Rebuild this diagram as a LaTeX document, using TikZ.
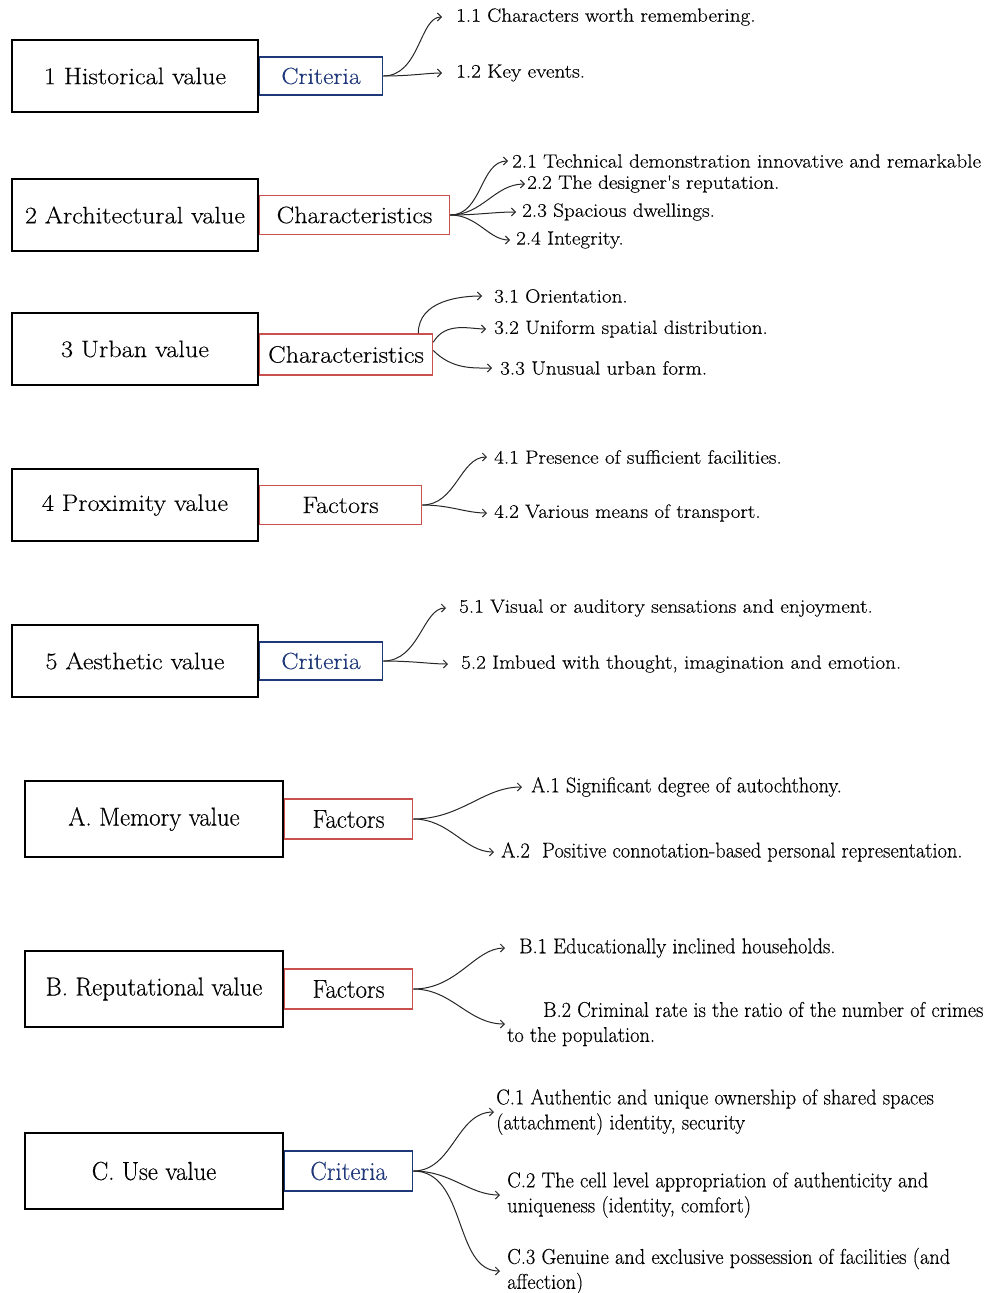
\documentclass[tikz,border=0pt]{standalone}
\usepackage{fontspec}
\newfontfamily\widefont{Latin Modern Roman}[FakeStretch=1.1, FakeBold=0.3]
\newfontfamily\condfont{Latin Modern Roman}[FakeStretch=0.95, FakeBold=0.3]
\usepackage{tikz}
\usetikzlibrary{positioning, arrows.meta}
\definecolor{critblue}{RGB}{31,56,122}
\definecolor{factred}{RGB}{201,80,77}

\begin{document}
\begin{tikzpicture}[x=1pt, y=-1pt,
valbox/.style={draw, line width=1.6pt, minimum width=246pt, minimum height=72pt, font=\widefont\fontsize{23.8}{28}\selectfont},
lowbox/.style={valbox, minimum width=258pt, minimum height=76pt, font=\condfont\fontsize{26}{30}\selectfont},
critbox/.style={draw=critblue, text=critblue, line width=1.5pt, minimum height=38pt, font=\widefont\fontsize{23.3}{28}\selectfont},
factbox/.style={draw=factred, line width=1.5pt, minimum height=39pt, font=\widefont\fontsize{23.8}{28}\selectfont},
lowfont/.style={font=\condfont\fontsize{26}{30}\selectfont, minimum height=40pt, minimum width=128pt},
leaf/.style={anchor=west, inner xsep=0pt, font=\widefont\fontsize{19.2}{23}\selectfont},
lowleaf/.style={anchor=west, inner xsep=0pt, align=left, font=\condfont\fontsize{21.5}{25}\selectfont},
branch/.style={-{Straight Barb[length=4pt, width=8pt]}, line width=1pt, draw=black!85, shorten >=8pt}]
\useasboundingbox (0,0) rectangle (984,1293);

\node[valbox] (v1) at (135,76) {1 Historical value};
\node[critbox, minimum width=123pt, right=0pt of v1] (c1) {Criteria};
\node[leaf] (t11) at (456,17) {1.1 Characters worth remembering.};
\node[leaf] (t12) at (456,73) {1.2 Key events.};
\draw[branch, shorten >=14pt] (c1.east) to[out=0,in=180] (t11.west);
\draw[branch, shorten >=14pt] (c1.east) to[out=0,in=180] (t12.west);

\node[valbox] (v2) at (135,215) {2 Architectural value};
\node[factbox, minimum width=190pt, right=0pt of v2] (c2) {Characteristics};
\node[leaf] (t21) at (512,161) {2.1 Technical demonstration innovative and remarkable};
\node[leaf] (t22) at (527,184) {2.2 The designer's reputation.};
\node[leaf] (t23) at (522,212) {2.3 Spacious dwellings.};
\node[leaf] (t24) at (516,240) {2.4 Integrity.};
\draw[branch, shorten >=4pt] (c2.east) to[out=0,in=180] (t21.west);
\draw[branch, shorten >=2pt] (c2.east) to[out=0,in=180] (t22.west);
\draw[branch, shorten >=6pt] (c2.east) to[out=0,in=180] (t23.west);
\draw[branch, shorten >=6pt] (c2.east) to[out=0,in=180] (t24.west);

\node[valbox] (v3) at (135,349) {3 Urban value};
\node[factbox, minimum width=173pt, minimum height=41pt, right=0pt of v3, yshift=-5.5pt] (c3) {Characteristics};
\node[leaf] (t31) at (494,296) {3.1 Orientation.};
\node[leaf] (t32) at (494,329) {3.2 Uniform spatial distribution.};
\node[leaf] (t33) at (500,368) {3.3 Unusual urban form.};
\draw[branch, shorten >=12pt] ([xshift=-15pt]c3.north east) to[out=90,in=180] (t31.west);
\draw[branch] ([yshift=-9pt]c3.north east) to[out=60,in=180] (t32.west);
\draw[branch] ([yshift=4pt]c3.east) to[out=-45,in=180] (t33.west);

\node[valbox] (v4) at (135,505) {4 Proximity value};
\node[factbox, minimum width=162pt, right=0pt of v4] (c4) {Factors};
\node[leaf] (t41) at (494,457) {4.1 Presence of sufficient facilities.};
\node[leaf] (t42) at (494,513) {4.2 Various means of transport.};
\draw[branch, shorten >=7pt] (c4.east) to[out=0,in=180] (t41.west);
\draw[branch, shorten >=7pt] (c4.east) to[out=0,in=180] (t42.west);

\node[valbox] (v5) at (135,661) {5 Aesthetic value};
\node[critbox, minimum width=123pt, right=0pt of v5] (c5) {Criteria};
\node[leaf] (t51) at (459,608) {5.1 Visual or auditory sensations and enjoyment.};
\node[leaf] (t52) at (461,664) {5.2 Imbued with thought, imagination and emotion.};
\draw[branch, shorten >=13pt] (c5.east) to[out=0,in=180] (t51.west);
\draw[branch, shorten >=13pt] (c5.east) to[out=0,in=180] (t52.west);

\node[lowbox] (vA) at (154,819) {A. Memory value};
\node[factbox, lowfont, right=0pt of vA] (cA) {Factors};
\node[lowleaf] (tA1) at (531,787) {A.1 Significant degree of autochthony.};
\node[lowleaf] (tA2) at (501,852) {A.2\ \ Positive connotation-based personal representation.};
\draw[branch, shorten >=9pt] (cA.east) to[out=0,in=180] (tA1.west);
\draw[branch, shorten >=7pt] (cA.east) to[out=0,in=180] (tA2.west);

\node[lowbox] (vB) at (154,989) {B. Reputational value};
\node[factbox, lowfont, right=0pt of vB] (cB) {Factors};
\node[lowleaf] (tB1) at (519,948) {B.1 Educationally inclined households.};
\node[lowleaf] (tB2) at (507,1024) {\hspace*{36pt}B.2 Criminal rate is the ratio of the number of crimes\\to the population.};
\draw[branch, shorten >=14pt] (cB.east) to[out=0,in=180] (tB1.west);
\draw[branch, shorten >=2pt] (cB.east) to[out=0,in=180] (tB2.west);

\node[lowbox] (vC) at (154,1171) {C. Use value};
\node[critbox, lowfont, right=0pt of vC] (cC) {Criteria};
\node[lowleaf] (tC1) at (496,1112) {C.1 Authentic and unique ownership of shared spaces\\(attachment) identity, security};
\node[lowleaf] (tC2) at (507,1195) {C.2 The cell level appropriation of authenticity and\\uniqueness (identity, comfort)};
\node[lowleaf] (tC3) at (507,1271) {C.3 Genuine and exclusive possession of facilities (and\\affection)};
\draw[branch, shorten >=2pt] (cC.east) to[out=0,in=180] (tC1.west);
\draw[branch, shorten >=7pt] (cC.east) to[out=0,in=180] (tC2.west);
\draw[branch, shorten >=7pt] (cC.east) to[out=0,in=180] (tC3.west);
\end{tikzpicture}
\end{document}
